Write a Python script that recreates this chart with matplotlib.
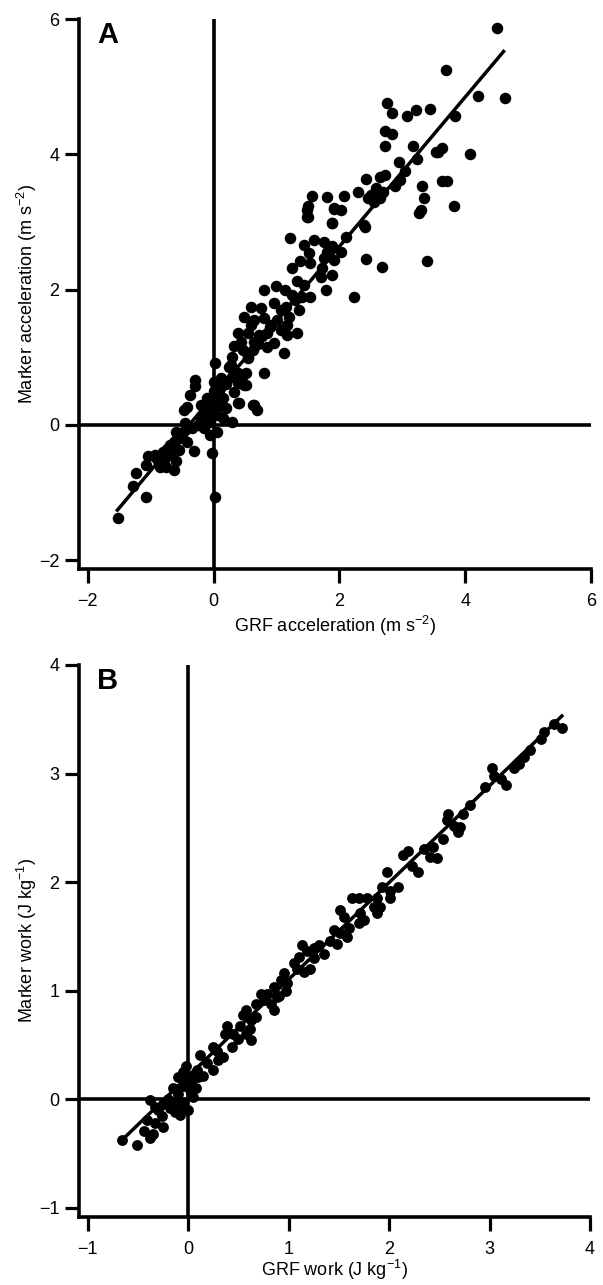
import matplotlib
matplotlib.use("Agg")
import matplotlib.pyplot as plt

plt.rcParams['font.family'] = ['Liberation Sans', 'DejaVu Sans']
plt.rcParams['mathtext.fontset'] = 'custom'
plt.rcParams['mathtext.rm'] = 'Liberation Sans'
plt.rcParams['mathtext.default'] = 'regular'

# ---------------- Panel A data ----------------
grf_acc = [
    -1.52, -1.07, -1.28, -1.24, -1.05, -0.93, -1.08, -0.76, -0.63, -0.79, -0.60, -0.74, -0.60, -0.55, -0.31, -0.02, 0.03,
    -0.45, -0.47, -0.29, -0.29, -0.37, 0.00,
    0.30, 0.40, 0.62, 0.69, 0.80, 0.30, 0.46, 0.51, 0.32,
    -0.60, -0.50, -0.63, -0.45, -0.34, -0.42,
    -0.20, -0.10, 0.00, 0.10, -0.15, -0.05, 0.05, 0.15, -0.10, 0.00, 0.10, -0.20, -0.25, 0.05, -0.05, 0.15, 0.20, 0.08, -0.12, 0.02,
    -0.90, -0.80, -0.70, -0.55, -0.85, -0.68,
    1.49, 1.89, 2.39, 1.22, 1.60, 1.75, 1.44, 1.52, 1.89, 1.81, 2.02, 1.91, 1.75, 2.42, 1.38, 1.54, 1.25, 1.73, 1.70, 1.89,
    2.23, 1.78, 1.54, 1.33, 1.44, 1.14, 0.99, 0.80, 1.25, 1.41, 0.96, 1.07, 1.36, 1.20, 1.17, 0.59, 0.75, 0.48, 0.64, 0.80,
    0.91, 0.59, 0.38, 0.54, 0.72, 0.85, 0.43, 0.64, 1.07, 1.17, 1.33, 0.32, 0.46, 0.62, 0.30, 0.54, 0.96, 1.12, 0.77, 0.27,
    0.38, 0.51, 0.38, 0.48, 0.03, -0.42, -0.10, 0.11, 0.38, 0.64,
    2.76, 2.84, 3.21, 3.08, 3.44, 3.83, 2.73, 2.84, 2.73, 3.17, 3.56, 3.63, 4.07, 3.24, 2.94, 3.05, 2.73, 2.65, 2.97, 2.42,
    2.89, 3.63, 3.71, 3.32, 3.35, 3.26, 3.29, 3.82, 2.50, 2.60, 2.65, 2.55, 2.70, 2.45, 2.58, 2.29, 2.07, 1.80, 1.57, 1.50,
    1.50, 1.91, 2.02, 1.88, 2.40, 2.11, 2.68, 3.39, 1.49, 1.92,
    4.51, 3.70, 4.20, 4.63, 3.53,
    0.90, 1.00, 1.15, 0.70, 0.85, 1.30, 0.55, 0.25, 0.20, 0.12,
]
marker_acc = [
    -1.38, -1.07, -0.91, -0.71, -0.46, -0.44, -0.59, -0.62, -0.67, -0.52, -0.54, -0.35, -0.22, -0.37, -0.39, -0.42, -1.07,
    0.03, 0.22, 0.67, 0.57, 0.44, 0.64,
    0.05, 0.32, 0.30, 0.22, 0.76, 0.71, 0.74, 0.59, 0.49,
    -0.10, -0.17, -0.25, -0.07, -0.05, -0.25,
    0.10, 0.20, 0.30, 0.35, -0.05, 0.05, 0.15, 0.40, 0.40, 0.50, 0.55, 0.30, 0.00, -0.10, -0.15, 0.10, 0.25, 0.45, 0.12, 0.38,
    -0.50, -0.40, -0.30, -0.20, -0.62, -0.45,
    3.08, 2.98, 2.96, 2.76, 2.74, 2.71, 2.66, 2.54, 2.64, 2.56, 2.56, 2.44, 2.47, 2.45, 2.42, 2.39, 2.32, 2.32, 2.19, 2.22,
    1.89, 2.00, 1.89, 2.12, 2.07, 2.00, 2.05, 2.00, 1.92, 1.89, 1.80, 1.70, 1.70, 1.60, 1.48, 1.75, 1.73, 1.60, 1.55, 1.58,
    1.48, 1.48, 1.36, 1.36, 1.33, 1.36, 1.23, 1.23, 1.41, 1.33, 1.36, 1.16, 1.11, 1.11, 1.01, 0.99, 1.21, 1.06, 1.31, 0.89,
    0.76, 0.76, 0.62, 0.59, 0.91, 0.27, 0.32, 0.30, 0.32, 0.30,
    4.76, 4.61, 4.66, 4.57, 4.67, 4.56, 4.34, 4.30, 4.12, 4.12, 4.04, 4.09, 4.01, 3.93, 3.88, 3.75, 3.70, 3.67, 3.62, 3.63,
    3.53, 3.60, 3.61, 3.53, 3.35, 3.13, 3.18, 3.24, 3.40, 3.45, 3.35, 3.30, 3.45, 3.35, 3.50, 3.44, 3.39, 3.37, 3.38, 3.24,
    3.07, 3.19, 3.18, 2.99, 2.93, 2.78, 2.33, 2.43, 3.18, 3.20,
    5.87, 5.24, 4.86, 4.83, 4.03,
    1.45, 1.55, 1.75, 1.20, 1.15, 1.85, 1.00, 0.85, 0.60, 0.70,
]
fit_a_x = [-1.53, 4.61]
fit_a_y = [-1.26, 5.52]

# ---------------- Panel B data ----------------
grf_work = [
    3.72, 3.64, 3.54, 3.51, 3.34, 3.29, 3.24, 3.02, 3.04, 3.11, 3.16,
    2.81, 2.74, 2.59, 2.58, 2.71, 2.69, 2.54, 2.44, 2.41, 2.48, 2.19, 2.14, 2.23, 2.29,
    1.98, 1.93, 2.01, 2.09, 2.01, 1.63, 1.70, 1.78, 1.88, 1.85, 1.91, 1.88,
    1.51, 1.55, 1.71, 1.75, 1.70, 1.45, 1.51, 1.58, 1.41, 1.48,
    1.13, 1.30, 1.35, 1.18, 1.25, 1.10, 1.05, 1.08, 1.15, 1.21,
    0.95, 0.92, 0.85, 0.98, 0.97, 0.78, 0.72, 0.75, 0.68, 0.88, 0.82, 0.85,
    0.58, 0.55, 0.63, 0.68, 0.62, 0.52, 0.45, 0.39, 0.37, 0.44, 0.58, 0.63,
    0.25, 0.29, 0.35, 0.12, 0.19, 0.25, 0.15, 0.09,
    -0.10, -0.05, 0.00, 0.05, -0.15, -0.10, -0.05, 0.02, 0.05, -0.20, -0.12, -0.05, 0.00, -0.08, -0.18, -0.25, -0.02, 0.03, 0.08, -0.30,
    -0.38, -0.33, -0.41, -0.33, -0.44, -0.26, -0.25, -0.35, -0.38, -0.51, -0.66,
    -0.13, -0.08, -0.18,
    2.65, 2.35, 1.60, 1.25, 0.90, 0.50, 0.30, 0.10, 3.40, 2.95,
]
marker_work = [
    3.42, 3.46, 3.38, 3.32, 3.15, 3.09, 3.05, 3.05, 2.98, 2.95, 2.89,
    2.71, 2.63, 2.63, 2.57, 2.51, 2.46, 2.40, 2.32, 2.23, 2.22, 2.29, 2.25, 2.15, 2.09,
    2.09, 1.95, 1.92, 1.95, 1.85, 1.85, 1.85, 1.85, 1.85, 1.77, 1.77, 1.71,
    1.74, 1.68, 1.71, 1.65, 1.62, 1.56, 1.53, 1.49, 1.46, 1.43,
    1.42, 1.42, 1.34, 1.36, 1.39, 1.31, 1.25, 1.20, 1.17, 1.20,
    1.16, 1.10, 1.03, 1.07, 1.00, 0.97, 0.97, 0.91, 0.88, 0.94, 0.88, 0.82,
    0.82, 0.77, 0.73, 0.76, 0.65, 0.67, 0.60, 0.67, 0.60, 0.48, 0.60, 0.54,
    0.48, 0.44, 0.39, 0.41, 0.33, 0.27, 0.21, 0.27,
    0.20, 0.25, 0.18, 0.22, 0.10, 0.05, 0.12, 0.08, 0.02, 0.00, -0.02, -0.05, -0.10, -0.15, -0.08, -0.05, 0.30, 0.15, 0.10, -0.10,
    -0.01, -0.07, -0.19, -0.22, -0.29, -0.16, -0.26, -0.32, -0.36, -0.42, -0.38,
    -0.12, -0.07, -0.04,
    2.52, 2.30, 1.58, 1.30, 0.95, 0.55, 0.36, 0.20, 3.22, 2.88,
]
fit_b_x = [-0.65, 3.72]
fit_b_y = [-0.37, 3.53]

ticks_a = [-2, 0, 2, 4, 6]
ticks_bx = [-1, 0, 1, 2, 3, 4]
ticks_by = [-1, 0, 1, 2, 3, 4]

W, H = 603, 1285
fig = plt.figure(figsize=(W / 100, H / 100), dpi=100)

ax_a = fig.add_axes([79 / W, 1 - 569 / H, 512 / W, 550 / H])
ax_b = fig.add_axes([79 / W, 1 - 1217 / H, 511 / W, 552 / H])

LW = 2.6
FS = 13


def style(ax, xt, yt, xlim, ylim):
    ax.set_xlim(*xlim)
    ax.set_ylim(*ylim)
    ax.set_xticks(xt)
    ax.set_yticks(yt)
    for s in ('top', 'right'):
        ax.spines[s].set_visible(False)
    for s in ('left', 'bottom'):
        ax.spines[s].set_linewidth(LW)
        ax.spines[s].set_capstyle('projecting')
    ax.tick_params(axis='both', direction='out', length=10, width=2.3,
                   labelsize=FS, colors='black')
    ax.tick_params(axis='x', pad=7)
    ax.tick_params(axis='y', pad=4)
    ax.axhline(0, color='black', lw=LW, zorder=1)
    ax.axvline(0, color='black', lw=LW, zorder=1)


style(ax_a, ticks_a, ticks_a, (-2.14, 6.0), (-2.13, 6.0))
ax_a.plot(grf_acc, marker_acc, 'o', color='black', markersize=8.3,
          markeredgewidth=0, zorder=3, clip_on=False)
ax_a.plot(fit_a_x, fit_a_y, '-', color='black', lw=2.5, zorder=2)
ax_a.set_xlabel('GRF acceleration (m s$^{-2}$)', fontsize=FS, labelpad=3)
ax_a.set_ylabel('Marker acceleration (m s$^{-2}$)', fontsize=FS, labelpad=0)
ax_a.text(0.035, 0.956, 'A', transform=ax_a.transAxes, fontsize=21,
          fontweight='bold', ha='left', va='baseline')

style(ax_b, ticks_bx, ticks_by, (-1.087, 4.0), (-1.087, 4.0))
ax_b.plot(grf_work, marker_work, 'o', color='black', markersize=7.8,
          markeredgewidth=0, zorder=3, clip_on=False)
ax_b.plot(fit_b_x, fit_b_y, '-', color='black', lw=2.5, zorder=2)
ax_b.set_xlabel('GRF work (J kg$^{-1}$)', fontsize=FS, labelpad=0)
ax_b.set_ylabel('Marker work (J kg$^{-1}$)', fontsize=FS, labelpad=0)
ax_b.text(0.035, 0.9565, 'B', transform=ax_b.transAxes, fontsize=21,
          fontweight='bold', ha='left', va='baseline')

fig.savefig('out.png', dpi=100)
